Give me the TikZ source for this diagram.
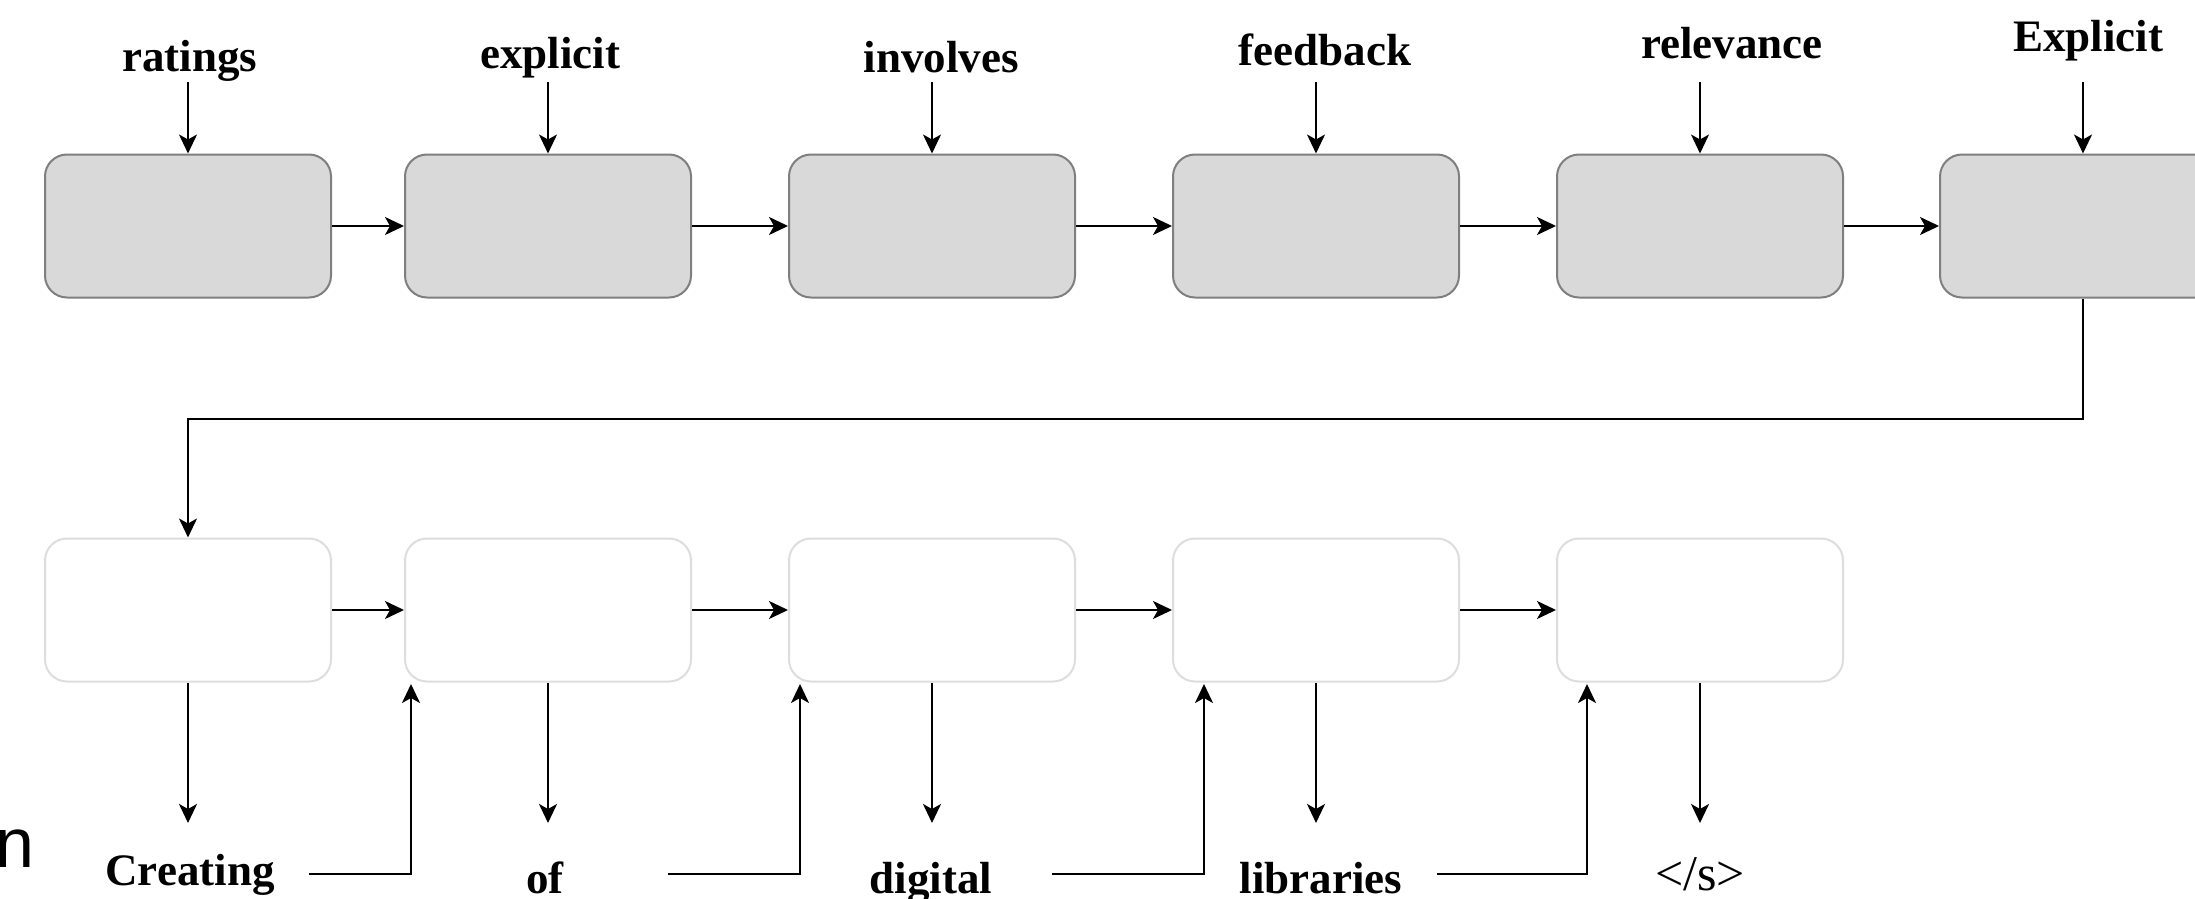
\documentclass[tikz,border=0pt]{standalone}
\usepackage{fontspec}
\setmainfont{Liberation Serif}
\newfontfamily\sansfam{Liberation Sans}
\usetikzlibrary{arrows.meta}
\definecolor{boxgray}{HTML}{7F7F7F}
\definecolor{fillgray}{HTML}{D9D9D9}
\definecolor{lightborder}{HTML}{DDDDDD}
\begin{document}
\begin{tikzpicture}[x=1pt,y=-1pt,
  topbox/.style={draw=boxgray, fill=fillgray, line width=2pt, rounded corners=22pt, minimum width=286pt, minimum height=143pt, inner sep=0pt},
  botbox/.style={draw=lightborder, fill=white, line width=2pt, rounded corners=22pt, minimum width=286pt, minimum height=143pt, inner sep=0pt},
  lbl/.style={font=\fontsize{45}{54}\selectfont\bfseries, inner sep=0pt, anchor=base},
  arr/.style={line width=2pt, -{Stealth[length=19pt,width=18pt,inset=5pt]}},
  ln/.style={line width=2pt}
]
\useasboundingbox (0,0) rectangle (2195,899);
\clip (0,0) rectangle (2195,899);

% top row boxes
\node[topbox] (b1) at (188,226) {};
\node[topbox] (b2) at (548,226) {};
\node[topbox] (b3) at (932,226) {};
\node[topbox] (b4) at (1316,226) {};
\node[topbox] (b5) at (1700,226) {};
\node[topbox] (b6) at (2083,226) {};

% bottom row boxes
\node[botbox] (c1) at (188,610) {};
\node[botbox] (c2) at (548,610) {};
\node[botbox] (c3) at (932,610) {};
\node[botbox] (c4) at (1316,610) {};
\node[botbox] (c5) at (1700,610) {};

% top labels
\node[lbl] (l1) at (190,72) {ratings};
\node[lbl] (l2) at (550,68) {explicit};
\node[lbl] (l3) at (941,73) {involves};
\node[lbl] (l4) at (1325,66) {feedback};
\node[lbl] (l5) at (1732,59) {relevance};
\node[lbl] (l6) at (2088,52) {Explicit};

% bottom labels
\node[lbl] (m1) at (190,885) {Creating};
\node[lbl] (m2) at (545,893) {of};
\node[lbl] (m3) at (931,893) {digital};
\node[lbl] (m4) at (1321,893) {libraries};
\node[font=\fontsize{50}{60}\selectfont, inner sep=0pt, anchor=base] (m5) at (1700,890) {</s>};

% stray text at left edge
\node[font=\sansfam\fontsize{70}{80}\selectfont, inner sep=0pt, anchor=base west] (nn) at (-5,867) {n};

% top input arrow starts
\coordinate (a1) at (188,82);
\coordinate (a2) at (548,82);
\coordinate (a3) at (932,82);
\coordinate (a4) at (1316,82);
\coordinate (a5) at (1700,82);
\coordinate (a6) at (2083,82);
\foreach \i in {1,...,6} {\draw[arr] (a\i) -- (b\i.north);}

% top chain
\draw[arr] (b1.east) -- (b2.west);
\draw[arr] (b2.east) -- (b3.west);
\draw[arr] (b3.east) -- (b4.west);
\draw[arr] (b4.east) -- (b5.west);
\draw[arr] (b5.east) -- (b6.west);

% link to second row
\draw[arr] (b6.south) -- ++(0,120) -| (c1.north);

% bottom chain
\draw[arr] (c1.east) -- (c2.west);
\draw[arr] (c2.east) -- (c3.west);
\draw[arr] (c3.east) -- (c4.west);
\draw[arr] (c4.east) -- (c5.west);

% down arrows to outputs
\coordinate (d1) at (188,823);
\coordinate (d2) at (548,823);
\coordinate (d3) at (932,823);
\coordinate (d4) at (1316,823);
\coordinate (d5) at (1700,823);
\foreach \i in {1,...,5} {\draw[arr] (c\i.south) -- (d\i);}

% feedback from outputs to next box
\coordinate (u1) at (309,874);  \coordinate (v1) at (411,684);
\coordinate (u2) at (668,874);  \coordinate (v2) at (800,684);
\coordinate (u3) at (1052,874); \coordinate (v3) at (1204,684);
\coordinate (u4) at (1437,874); \coordinate (v4) at (1587,684);
\foreach \i in {1,...,4} {\draw[arr] (u\i) -| (v\i);}
\end{tikzpicture}
\end{document}
